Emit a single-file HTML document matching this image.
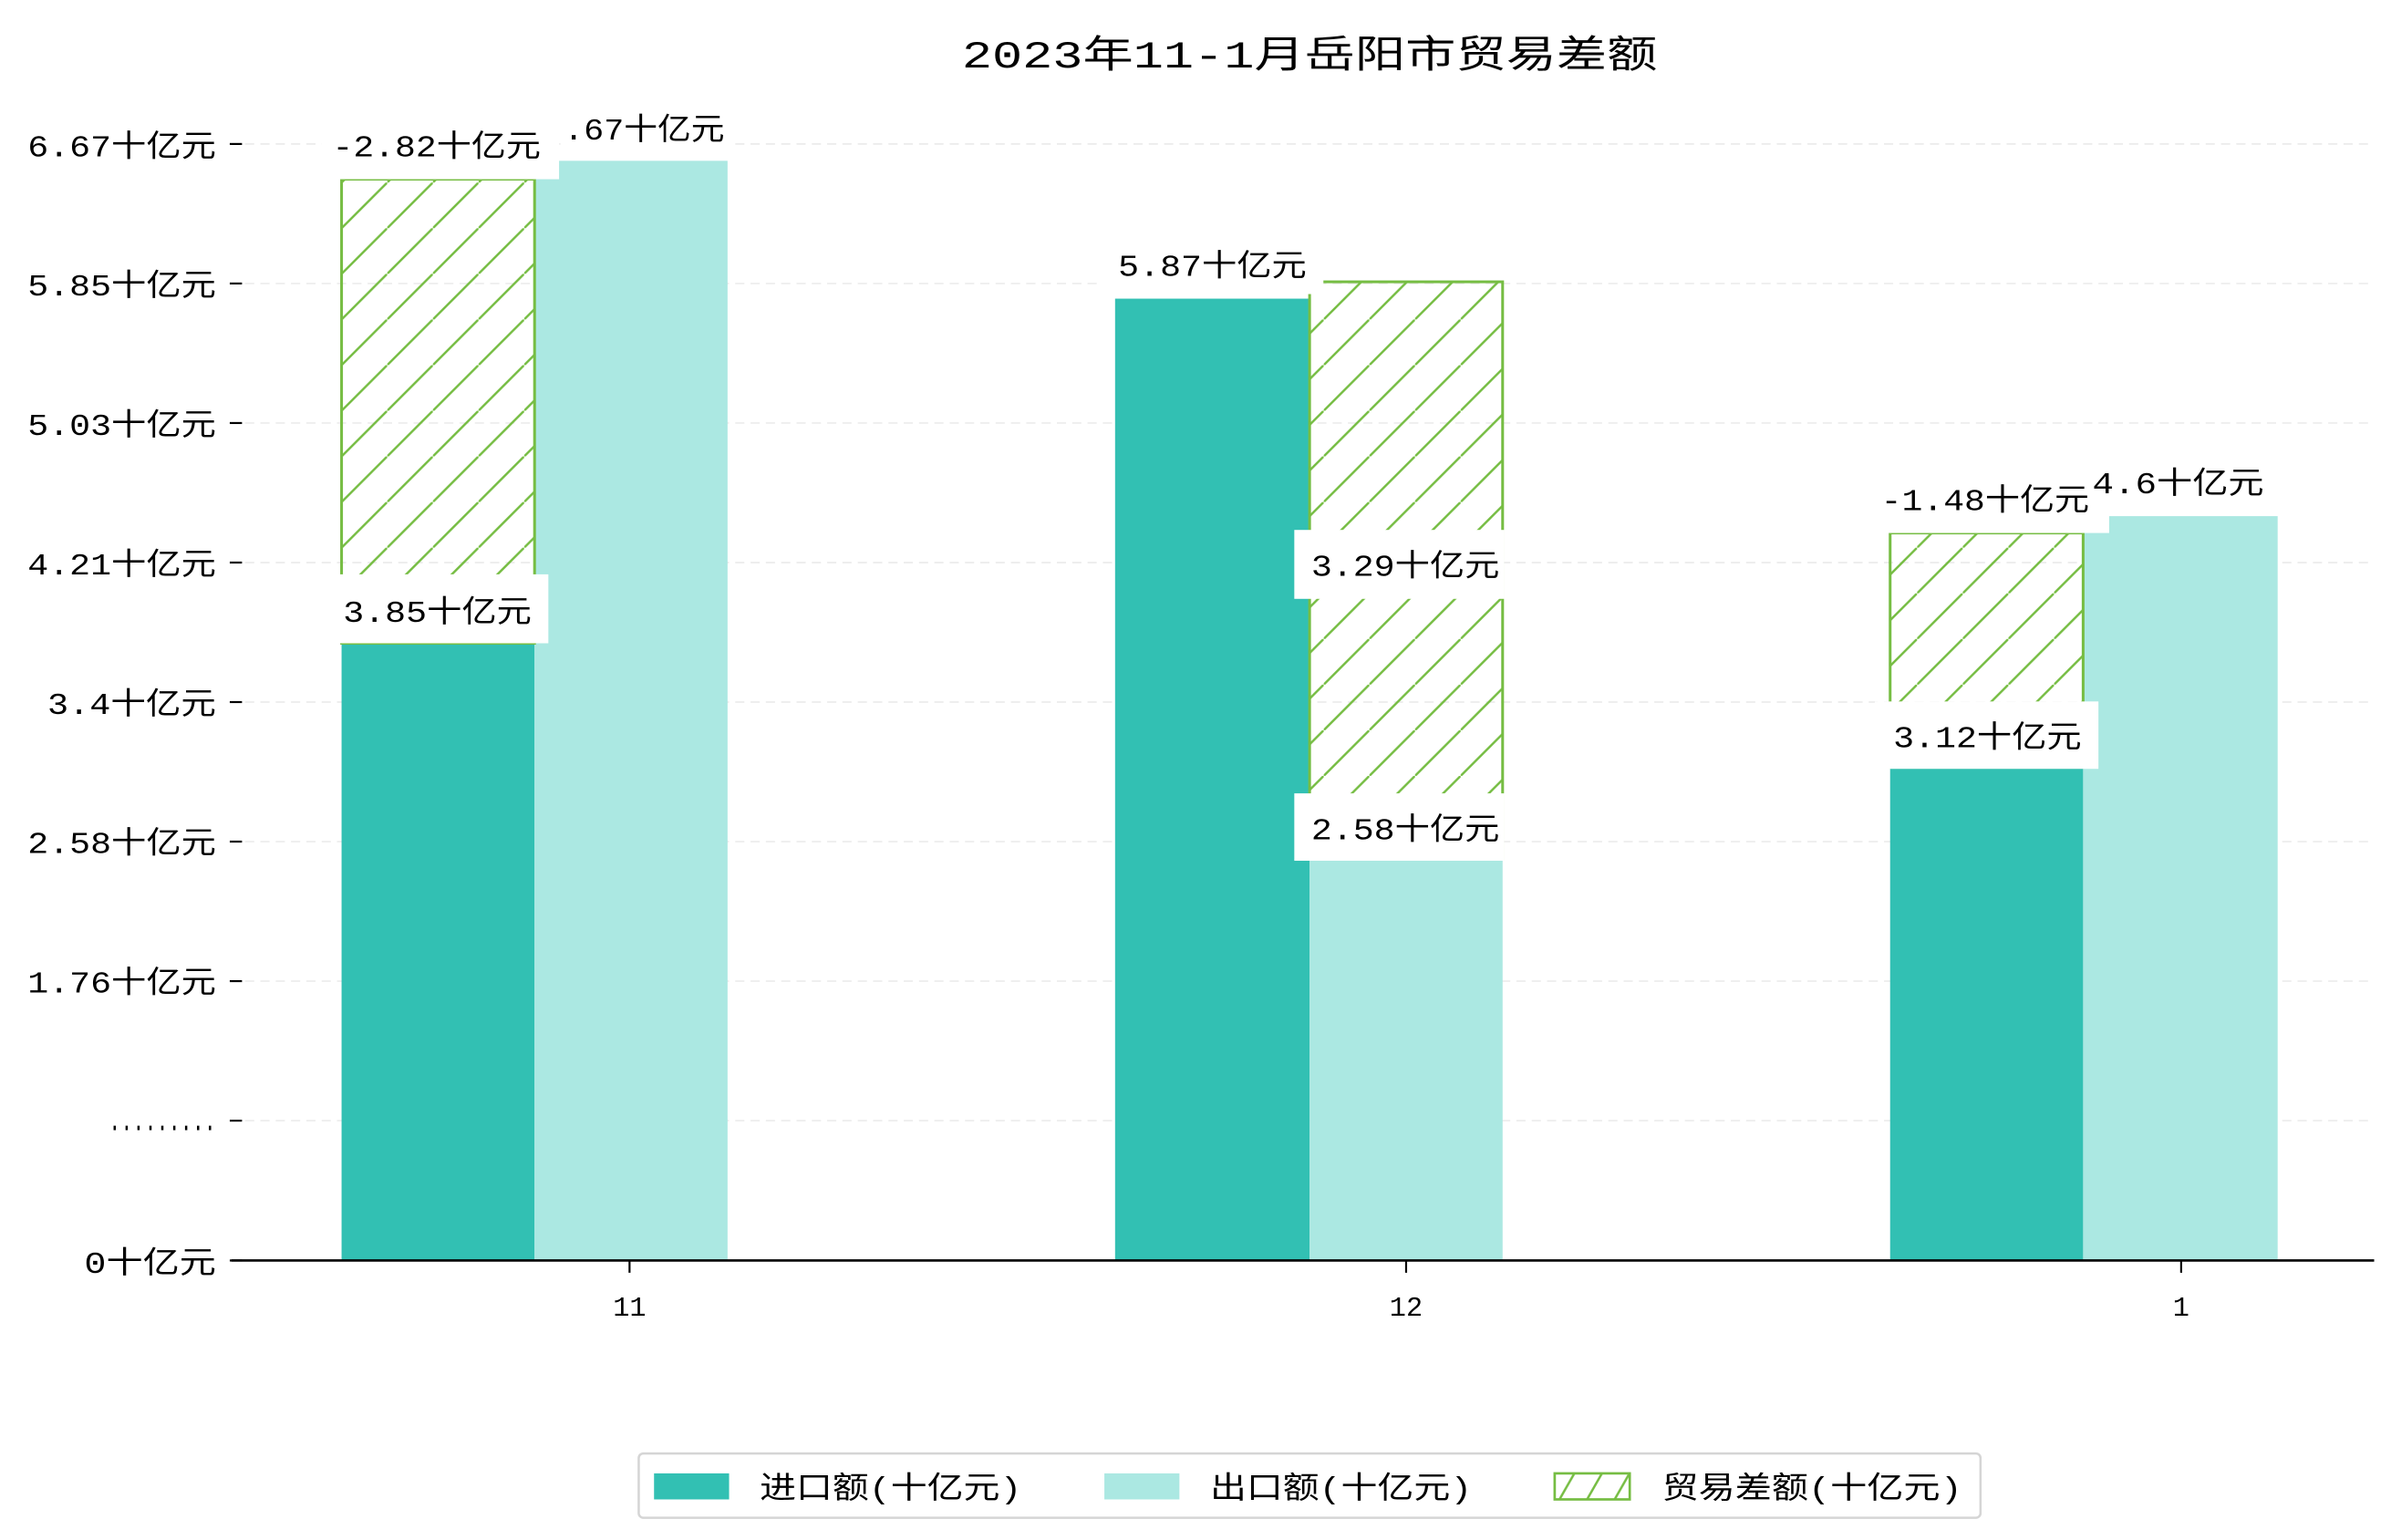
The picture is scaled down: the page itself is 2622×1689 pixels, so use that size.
<!DOCTYPE html>
<html><head><meta charset="utf-8"><style>html,body{margin:0;padding:0;background:#fff}svg{display:block}</style></head>
<body>
<svg width="2622" height="1689" viewBox="0 0 1561 1005.5" preserveAspectRatio="none" xmlns="http://www.w3.org/2000/svg" font-family="'Liberation Mono','Noto Sans CJK SC',monospace">
<defs>
<pattern id="h1" patternUnits="userSpaceOnUse" width="29.8" height="29.8" x="223" y="0">
<line x1="-3" y1="32.8" x2="32.8" y2="-3" stroke="#76bd43" stroke-width="1.5"/>
</pattern>
<pattern id="h2" patternUnits="userSpaceOnUse" width="29.8" height="29.8" x="0" y="0">
<line x1="-3" y1="32.8" x2="32.8" y2="-3" stroke="#76bd43" stroke-width="1.5"/>
</pattern>
<pattern id="h3" patternUnits="userSpaceOnUse" width="18" height="17" x="1015" y="962">
<line x1="2" y1="19" x2="14" y2="-2" stroke="#76bd43" stroke-width="1.5"/>
</pattern>
</defs>
<rect width="1561" height="1005.5" fill="#fff"/>
<text x="628" y="44" font-size="25" fill="#000" textLength="454" lengthAdjust="spacingAndGlyphs">2023年11-1月岳阳市贸易差额</text>
<g stroke="#ececec" stroke-width="1" stroke-dasharray="6,4">
<line x1="160" x2="1550" y1="94" y2="94"/><line x1="160" x2="1550" y1="185.1" y2="185.1"/>
<line x1="160" x2="1550" y1="276.2" y2="276.2"/><line x1="160" x2="1550" y1="367.3" y2="367.3"/>
<line x1="160" x2="1550" y1="458.4" y2="458.4"/><line x1="160" x2="1550" y1="549.5" y2="549.5"/>
<line x1="160" x2="1550" y1="640.6" y2="640.6"/><line x1="160" x2="1550" y1="731.7" y2="731.7"/>
</g>
<rect x="223" y="420" width="126" height="403" fill="#32c0b3"/>
<rect x="349" y="105" width="126" height="718" fill="#abe8e2"/>
<rect x="223" y="117" width="126" height="303" fill="url(#h1)" stroke="#76bd43" stroke-width="1.8"/>
<rect x="728" y="195" width="127" height="628" fill="#32c0b3"/>
<rect x="855" y="561" width="126" height="262" fill="#abe8e2"/>
<rect x="855" y="184" width="126" height="377" fill="url(#h2)" stroke="#76bd43" stroke-width="1.8"/>
<rect x="1234" y="501" width="126" height="322" fill="#32c0b3"/>
<rect x="1360" y="337" width="127" height="486" fill="#abe8e2"/>
<rect x="1234" y="348" width="126" height="153" fill="url(#h2)" stroke="#76bd43" stroke-width="1.8"/>
<g font-size="20" fill="#000">
<rect x="210" y="74" width="155" height="43" fill="#fff"/>
<text x="217" y="102" textLength="136" lengthAdjust="spacingAndGlyphs">-2.82十亿元</text>
<rect x="366" y="62" width="112" height="40" fill="#fff"/>
<text x="368" y="91" textLength="105" lengthAdjust="spacingAndGlyphs">.67十亿元</text>
<rect x="212" y="375" width="146" height="45" fill="#fff"/>
<text x="224" y="406" textLength="123" lengthAdjust="spacingAndGlyphs">3.85十亿元</text>
<rect x="718" y="152" width="146" height="40" fill="#fff"/>
<text x="730" y="180" textLength="123" lengthAdjust="spacingAndGlyphs">5.87十亿元</text>
<rect x="845" y="346" width="137" height="45" fill="#fff"/>
<text x="856" y="376" textLength="123" lengthAdjust="spacingAndGlyphs">3.29十亿元</text>
<rect x="845" y="518" width="137" height="44" fill="#fff"/>
<text x="856" y="548" textLength="123" lengthAdjust="spacingAndGlyphs">2.58十亿元</text>
<rect x="1222" y="304" width="155" height="44" fill="#fff"/>
<text x="1228" y="333" textLength="136" lengthAdjust="spacingAndGlyphs">-1.48十亿元</text>
<rect x="1378" y="294" width="106" height="40" fill="#fff"/>
<text x="1366" y="322" textLength="112" lengthAdjust="spacingAndGlyphs">4.6十亿元</text>
<rect x="1224" y="458" width="146" height="44" fill="#fff"/>
<text x="1236" y="488" textLength="123" lengthAdjust="spacingAndGlyphs">3.12十亿元</text>
</g>
<line x1="151" x2="1550" y1="823" y2="823" stroke="#000" stroke-width="1.6"/>
<g stroke="#000" stroke-width="1.3">
<line x1="150" x2="158" y1="94" y2="94"/><line x1="150" x2="158" y1="185.1" y2="185.1"/>
<line x1="150" x2="158" y1="276.2" y2="276.2"/><line x1="150" x2="158" y1="367.3" y2="367.3"/>
<line x1="150" x2="158" y1="458.4" y2="458.4"/><line x1="150" x2="158" y1="549.5" y2="549.5"/>
<line x1="150" x2="158" y1="640.6" y2="640.6"/><line x1="150" x2="158" y1="731.7" y2="731.7"/>
<line x1="150" x2="158" y1="823" y2="823"/>
<line x1="411" x2="411" y1="823" y2="831"/><line x1="918" x2="918" y1="823" y2="831"/><line x1="1424" x2="1424" y1="823" y2="831"/>
</g>
<g font-size="20" fill="#000" text-anchor="end">
<text x="141" y="102" textLength="123" lengthAdjust="spacingAndGlyphs">6.67十亿元</text>
<text x="141" y="193" textLength="123" lengthAdjust="spacingAndGlyphs">5.85十亿元</text>
<text x="141" y="284" textLength="123" lengthAdjust="spacingAndGlyphs">5.03十亿元</text>
<text x="141" y="375" textLength="123" lengthAdjust="spacingAndGlyphs">4.21十亿元</text>
<text x="141" y="466" textLength="110" lengthAdjust="spacingAndGlyphs">3.4十亿元</text>
<text x="141" y="557" textLength="123" lengthAdjust="spacingAndGlyphs">2.58十亿元</text>
<text x="141" y="648" textLength="123" lengthAdjust="spacingAndGlyphs">1.76十亿元</text>
<text x="141" y="738" textLength="70" lengthAdjust="spacingAndGlyphs">.........</text>
<text x="141" y="831" textLength="86" lengthAdjust="spacingAndGlyphs">0十亿元</text>
</g>
<g font-size="18" fill="#000" text-anchor="middle">
<text x="411" y="859">11</text><text x="918" y="859">12</text><text x="1424" y="859">1</text>
</g>
<rect x="417" y="949" width="876" height="42" rx="3" fill="#fff" stroke="#d5d5d5" stroke-width="1.5"/>
<rect x="427" y="962" width="49" height="17" fill="#32c0b3"/>
<rect x="721" y="962" width="49" height="17" fill="#abe8e2"/>
<rect x="1015" y="962" width="49" height="17" fill="url(#h3)" stroke="#76bd43" stroke-width="1.6"/>
<g font-size="20" fill="#000">
<text x="496" y="978" textLength="171" lengthAdjust="spacingAndGlyphs">进口额(十亿元)</text>
<text x="790" y="978" textLength="171" lengthAdjust="spacingAndGlyphs">出口额(十亿元)</text>
<text x="1085" y="978" textLength="196" lengthAdjust="spacingAndGlyphs">贸易差额(十亿元)</text>
</g>
</svg>
</body></html>
